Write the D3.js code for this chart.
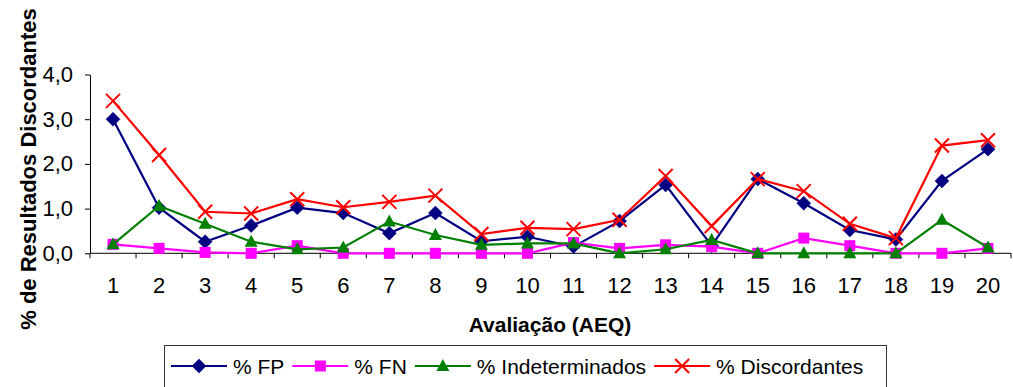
<!DOCTYPE html>
<html>
<head>
<meta charset="utf-8">
<script src="https://cdn.jsdelivr.net/npm/d3@7/dist/d3.min.js"></script>
<style>
  html, body { margin: 0; padding: 0; background: #fff; }
  svg { display: block; font-family: "Liberation Sans", Arial, sans-serif; }
</style>
</head>
<body>
<svg id="chart" width="1013" height="387"></svg>
<script>
// Avaliações externas da qualidade (AEQ) 1–20
const avaliacoes = d3.range(1, 21);

// Percentagens por avaliação
const fp = [3.0, 1.02, 0.26, 0.62, 1.02, 0.9, 0.45, 0.9, 0.27, 0.37, 0.15, 0.72, 1.53, 0.17, 1.66, 1.12, 0.52, 0.31, 1.62, 2.33];
const fn = [0.2, 0.11, 0.02, 0.0, 0.17, 0.0, 0.0, 0.0, 0.0, 0.0, 0.24, 0.11, 0.19, 0.15, 0.0, 0.34, 0.17, 0.0, 0.0, 0.11];
const indeterminados = [0.2, 1.06, 0.66, 0.26, 0.09, 0.13, 0.71, 0.41, 0.19, 0.22, 0.22, 0.0, 0.09, 0.3, 0.0, 0.0, 0.0, 0.0, 0.75, 0.13];
const discordantes = [3.41, 2.2, 0.93, 0.89, 1.21, 1.03, 1.15, 1.29, 0.43, 0.57, 0.54, 0.75, 1.73, 0.61, 1.66, 1.39, 0.66, 0.34, 2.41, 2.53];

const yTicks = [0, 1, 2, 3, 4];

const series = [
  { name: "% FP", values: fp, color: "#000080", symbol: "diamond" },
  { name: "% FN", values: fn, color: "#FF00FF", symbol: "square" },
  { name: "% Indeterminados", values: indeterminados, color: "#008000", symbol: "triangle" },
  { name: "% Discordantes", values: discordantes, color: "#FF0000", symbol: "cross" }
];

const svg = d3.select("#chart");
const plot = { left: 90, right: 1011, top: 74.5, bottom: 253.3 };

const x = d3.scaleBand().domain(avaliacoes).range([plot.left, plot.right]);
const y = d3.scaleLinear().domain([0, 4]).range([plot.bottom, plot.top]);
const cx = d => x(d) + x.bandwidth() / 2;

const fmt = v => d3.format(".1f")(v).replace(".", ",");

// Y axis
const yAxis = svg.append("g")
  .attr("transform", `translate(${plot.left},0)`)
  .call(d3.axisLeft(y).tickValues(yTicks).tickFormat(fmt).tickSizeOuter(0).tickSizeInner(5).tickPadding(12));
yAxis.selectAll("text").attr("font-size", 22).attr("fill", "#000").attr("font-family", "Liberation Sans, Arial, sans-serif");
yAxis.selectAll("line, path").attr("stroke", "#000");

// X axis: ticks sit between categories
const xAxis = svg.append("g")
  .attr("transform", `translate(0,${plot.bottom})`);
xAxis.append("line")
  .attr("x1", plot.left).attr("x2", plot.right)
  .attr("stroke", "#000");
const boundaries = avaliacoes.map(d => x(d)).concat([plot.right]);
xAxis.selectAll("line.tick")
  .data(boundaries)
  .join("line")
  .attr("class", "tick")
  .attr("x1", d => d).attr("x2", d => d)
  .attr("y1", 0).attr("y2", 5)
  .attr("stroke", "#000");
xAxis.selectAll("text")
  .data(avaliacoes)
  .join("text")
  .attr("x", d => cx(d))
  .attr("y", 40)
  .attr("text-anchor", "middle")
  .attr("font-size", 22)
  .text(d => d);

// Axis titles
svg.append("text")
  .attr("x", 550).attr("y", 332)
  .attr("text-anchor", "middle")
  .attr("font-size", 21).attr("font-weight", "bold")
  .text("Avaliação (AEQ)");

svg.append("text")
  .attr("transform", "translate(36,169) rotate(-90)")
  .attr("text-anchor", "middle")
  .attr("font-size", 22).attr("font-weight", "bold")
  .text("% de Resultados Discordantes");

// Marker shapes
function drawMarker(g, type, color) {
  if (type === "diamond") {
    g.append("path").attr("d", "M0,-7L7,0L0,7L-7,0Z").attr("fill", color).attr("stroke", color).attr("stroke-width", 0.5);
  } else if (type === "square") {
    g.append("rect").attr("x", -5.5).attr("y", -5.5).attr("width", 11).attr("height", 11).attr("fill", color);
  } else if (type === "triangle") {
    g.append("path").attr("d", "M0,-7L6.5,5L-6.5,5Z").attr("fill", color);
  } else if (type === "cross") {
    g.append("path").attr("d", "M-7,-7L7,7M-7,7L7,-7").attr("stroke", color).attr("stroke-width", 2).attr("fill", "none");
  }
}

const line = d3.line().x((v, i) => cx(avaliacoes[i])).y(v => y(v));

series.forEach(s => {
  const g = svg.append("g");
  g.append("path")
    .attr("d", line(s.values))
    .attr("fill", "none")
    .attr("stroke", s.color)
    .attr("stroke-width", 2.2);
  s.values.forEach((v, i) => {
    const m = g.append("g").attr("transform", `translate(${cx(avaliacoes[i])},${y(v)})`);
    drawMarker(m, s.symbol, s.color);
  });
});

// Legend
const legend = svg.append("g");
legend.append("rect")
  .attr("x", 164.5).attr("y", 345.5)
  .attr("width", 722).attr("height", 60)
  .attr("fill", "#fff").attr("stroke", "#333");

let lx = 171;
const ly = 366;
series.forEach(s => {
  const item = legend.append("g");
  item.append("line")
    .attr("x1", lx).attr("x2", lx + 56)
    .attr("y1", ly).attr("y2", ly)
    .attr("stroke", s.color).attr("stroke-width", 2);
  const m = item.append("g").attr("transform", `translate(${lx + 28},${ly})`);
  drawMarker(m, s.symbol, s.color);
  const t = item.append("text")
    .attr("x", lx + 62).attr("y", ly + 7.5)
    .attr("font-size", 21)
    .text(s.name);
  lx += 62 + t.node().getComputedTextLength() + 8;
});
</script>
</body>
</html>
